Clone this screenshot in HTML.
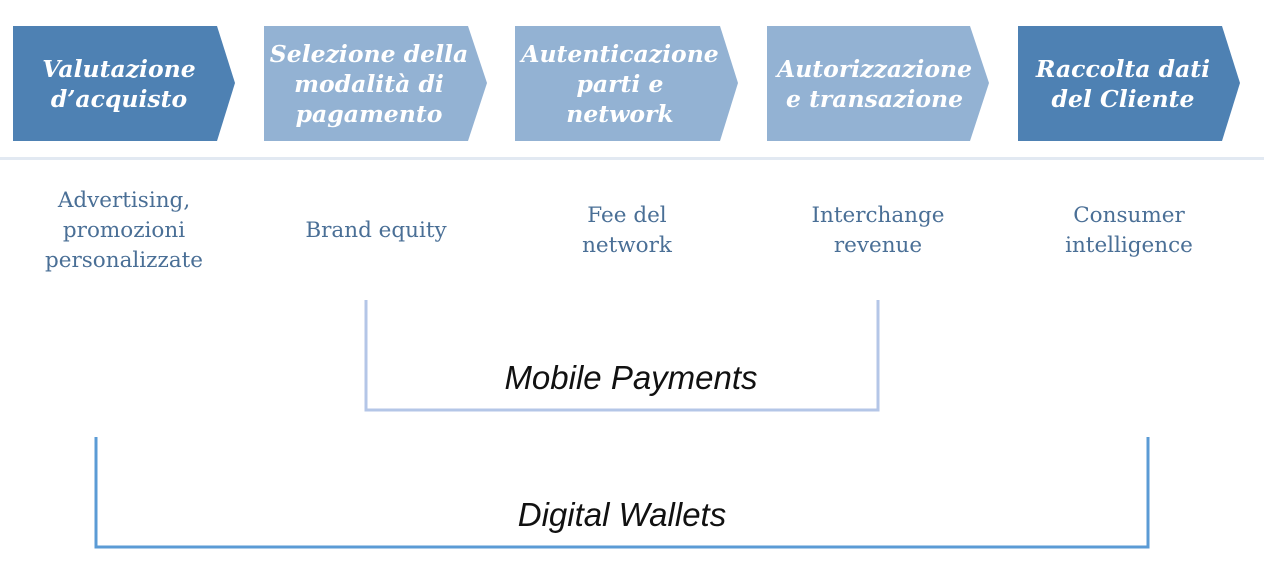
<!DOCTYPE html>
<html><head><meta charset="utf-8"><style>
body{margin:0;width:1264px;height:561px;background:#fff;overflow:hidden;position:relative;font-family:"DejaVu Serif",serif}
.t{position:absolute;color:#fff;font-weight:bold;font-style:italic;font-size:23.5px;line-height:30px;text-align:center;display:flex;align-items:center;justify-content:center;top:26px;height:115px;white-space:nowrap}
.s{position:absolute;color:#4a6f96;font-size:21.5px;line-height:30px;text-align:center;width:220px;white-space:nowrap}
.m{position:absolute;font-family:"Liberation Sans",sans-serif;font-style:italic;font-size:33px;color:#111;text-align:center}
</style></head><body>
<svg width="1264" height="561" style="position:absolute;left:0;top:0">
<polygon points="13,26 217,26 235,83 217,141 13,141" fill="#4e81b3"/>
<polygon points="264,26 468,26 487,83 468,141 264,141" fill="#93b2d3"/>
<polygon points="515,26 720,26 738,83 720,141 515,141" fill="#93b2d3"/>
<polygon points="767,26 970,26 989,83 970,141 767,141" fill="#93b2d3"/>
<polygon points="1018,26 1222,26 1240,83 1222,141 1018,141" fill="#4e81b3"/>
<rect x="0" y="157" width="1264" height="3" fill="#e2e9f2"/>
<polyline points="366,300 366,410 878,410 878,300" fill="none" stroke="#b4c6e7" stroke-width="3"/>
<polyline points="96,437 96,547 1148,547 1148,437" fill="none" stroke="#5b9bd5" stroke-width="3"/>
</svg>
<div class="t" style="left:13px;width:212px">Valutazione<br>d’acquisto</div>
<div class="t" style="left:264px;width:210px">Selezione della<br>modalità di<br>pagamento</div>
<div class="t" style="left:515px;width:210px">Autenticazione<br>parti e<br>network</div>
<div class="t" style="left:767px;width:215px">Autorizzazione<br>e transazione</div>
<div class="t" style="left:1018px;width:210px">Raccolta dati<br>del Cliente</div>
<div class="s" style="left:14px;top:186px">Advertising,<br>promozioni<br>personalizzate</div>
<div class="s" style="left:266px;top:216px">Brand equity</div>
<div class="s" style="left:517px;top:201px">Fee del<br>network</div>
<div class="s" style="left:768px;top:201px">Interchange<br>revenue</div>
<div class="s" style="left:1019px;top:201px">Consumer<br>intelligence</div>
<div class="m" style="left:366px;width:530px;top:359px">Mobile Payments</div>
<div class="m" style="left:96px;width:1052px;top:496px">Digital Wallets</div>
</body></html>
